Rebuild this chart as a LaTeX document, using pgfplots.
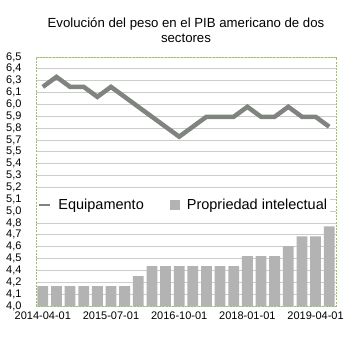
\documentclass[border=0pt]{standalone}
\usepackage{pgfplots}
\pgfplotsset{compat=1.18}
\usepackage{fontspec}
\setmainfont{Liberation Sans}
\definecolor{linec}{RGB}{127,132,127}
\definecolor{barc}{RGB}{179,179,179}
\definecolor{gridc}{RGB}{204,204,204}
\definecolor{borderc}{RGB}{155,195,100}
\begin{document}
\begin{tikzpicture}
\begin{axis}[
  name=ax,
  scale only axis,
  width=300pt, height=249pt,
  xmin=-0.5, xmax=21.5,
  ymin=4, ymax=6.5,
  axis line style={draw=borderc, dash pattern=on 2pt off 1.2pt, line width=0.9pt},
  xtick={0,5,10,15,20},
  xticklabels={2014-04-01,2015-07-01,2016-10-01,2018-01-01,2019-04-01},
  ytick={4,4.1190476,4.2380952,4.3571429,4.4761905,4.5952381,4.7142857,4.8333333,4.9523810,5.0714286,5.1904762,5.3095238,5.4285714,5.5476190,5.6666667,5.7857143,5.9047619,6.0238095,6.1428571,6.2619048,6.3809524,6.5},
  yticklabels={{4,0},{4,1},{4,2},{4,4},{4,5},{4,6},{4,7},{4,8},{5,0},{5,1},{5,2},{5,3},{5,4},{5,5},{5,7},{5,8},{5,9},{6,0},{6,1},{6,3},{6,4},{6,5}},
  major tick length=0pt,
  ymajorgrids,
  grid style={draw=gridc, line width=0.9pt},
  tick label style={font=\fontsize{11}{13}\selectfont},
  yticklabel style={xshift=-11pt},
  xticklabel style={yshift=-2pt},
  title={Evolución del peso en el PIB americano de dos\\sectores},
  title style={font=\fontsize{13.2}{15}\selectfont, align=center, at={(0.5,1)}, anchor=south, yshift=5pt},
  legend columns=2,
  legend style={at={(0.4917,0.4056)}, anchor=center, draw=none, fill=white,
    font=\fontsize{14.5}{16}\selectfont, inner sep=1pt,
    /tikz/every odd column/.append style={column sep=5pt},
    /tikz/every even column/.append style={column sep=24pt}},
]
\addplot[draw=linec, line width=4.5pt, mark=none,
  legend image code/.code={\draw[linec, line width=2.5pt] (0pt,0pt) -- (11pt,0pt);}]
  coordinates {(0,6.2)(1,6.3)(2,6.2)(3,6.2)(4,6.1)(5,6.2)(6,6.1)(7,6.0)(8,5.9)(9,5.8)(10,5.7)(11,5.8)(12,5.9)(13,5.9)(14,5.9)(15,6.0)(16,5.9)(17,5.9)(18,6.0)(19,5.9)(20,5.9)(21,5.8)};
\addlegendentry{Equipamento}
\addplot[ybar, bar width=10.8pt, fill=barc, draw=none,
  legend image code/.code={\fill[barc] (0pt,-5pt) rectangle (10pt,5pt);}]
  coordinates {(0,4.2)(1,4.2)(2,4.2)(3,4.2)(4,4.2)(5,4.2)(6,4.2)(7,4.3)(8,4.4)(9,4.4)(10,4.4)(11,4.4)(12,4.4)(13,4.4)(14,4.4)(15,4.5)(16,4.5)(17,4.5)(18,4.6)(19,4.7)(20,4.7)(21,4.8)};
\addlegendentry{Propriedad intelectual}
\end{axis}
\pgfresetboundingbox
\path[use as bounding box] (ax.south west) ++(-36pt,-33pt) rectangle ++(356pt,339pt);
\end{tikzpicture}
\end{document}
